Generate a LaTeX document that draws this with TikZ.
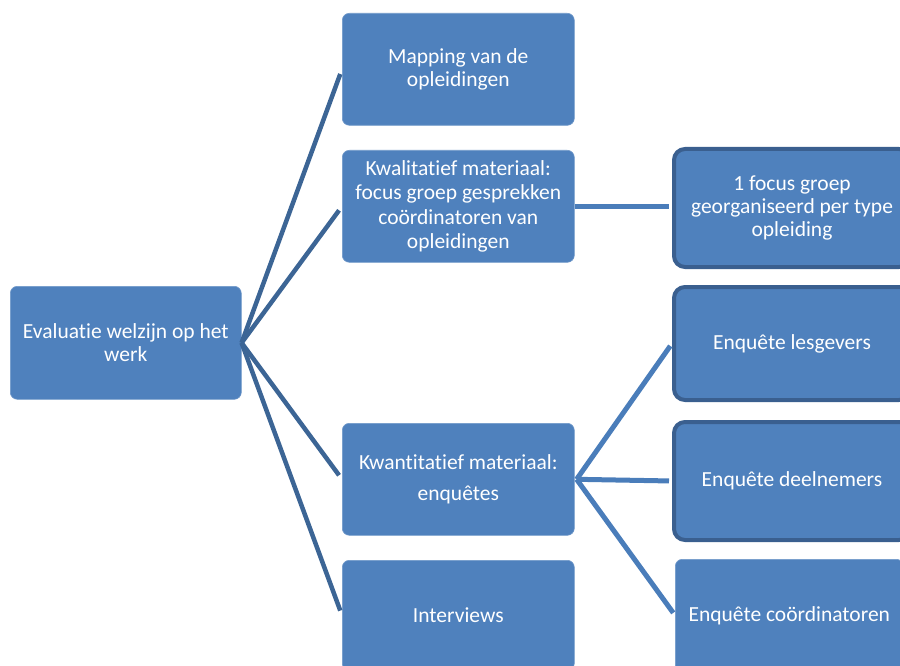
\documentclass[tikz,border=0pt]{standalone}
\usepackage{fontspec}
\setmainfont{Carlito}[Ligatures=NoCommon]
\definecolor{boxfill}{HTML}{4F81BD}
\definecolor{boxedge}{HTML}{3A5F8F}
\definecolor{rootline}{HTML}{3C6595}
\definecolor{subline}{HTML}{4A7DBA}
\begin{document}
\begin{tikzpicture}[x=1pt,y=-1pt,
  box/.style={draw=boxfill!80!white, line width=0.6pt, fill=boxfill,
    rounded corners=7pt, text=white, align=center, anchor=north west,
    font=\fontsize{21.5}{23}\selectfont, inner sep=0pt},
  leafbox/.style={box, draw=boxedge, line width=4pt, rounded corners=11pt},
  rootlink/.style={draw=rootline, line width=4.5pt, shorten >=5pt},
  sublink/.style={draw=subline, line width=5pt, shorten >=3pt}]
\useasboundingbox (0,0) rectangle (900,666);
\clip (0,0) rectangle (900,666);

% root and first level
\node[box, minimum width=231pt, minimum height=113pt] (root) at (10,286)
  {Evaluatie welzijn op het\\werk};
\node[box, minimum width=232pt, minimum height=112pt] (map) at (342,13)
  {Mapping van de\\opleidingen};
\node[box, minimum width=232pt, minimum height=112pt,
  font=\fontsize{21.5}{24.5}\selectfont] (kwal) at (342,150)
  {Kwalitatief materiaal:\\focus groep gesprekken\\coördinatoren van\\opleidingen};
\node[box, minimum width=232pt, minimum height=112pt,
  font=\fontsize{21.5}{31}\selectfont] (kwan) at (342,423)
  {Kwantitatief materiaal:\\enquêtes};
\node[box, minimum width=232pt, minimum height=110pt] (intv) at (342,560)
  {Interviews};

% second level
\node[leafbox, minimum width=236pt, minimum height=118pt] (focus) at (672,147)
  {1 focus groep\\georganiseerd per type\\opleiding};
\node[leafbox, minimum width=236pt, minimum height=113pt] (lesg) at (672,285)
  {Enquête lesgevers};
\node[leafbox, minimum width=236pt, minimum height=118pt] (deeln) at (672,420)
  {Enquête deelnemers};
\node[box, minimum width=228pt, minimum height=112pt] (coord) at (675,559)
  {Enquête coördinatoren};

% connectors
\foreach \t in {map,kwal,kwan,intv}
  \draw[rootlink] (root.east) -- (\t.west);
\draw[sublink] (kwal.east) -- (kwal.east -| focus.west);
\foreach \t in {lesg,deeln,coord}
  \draw[sublink] ([xshift=2pt]kwan.east) -- (\t.west);
\end{tikzpicture}
\end{document}
